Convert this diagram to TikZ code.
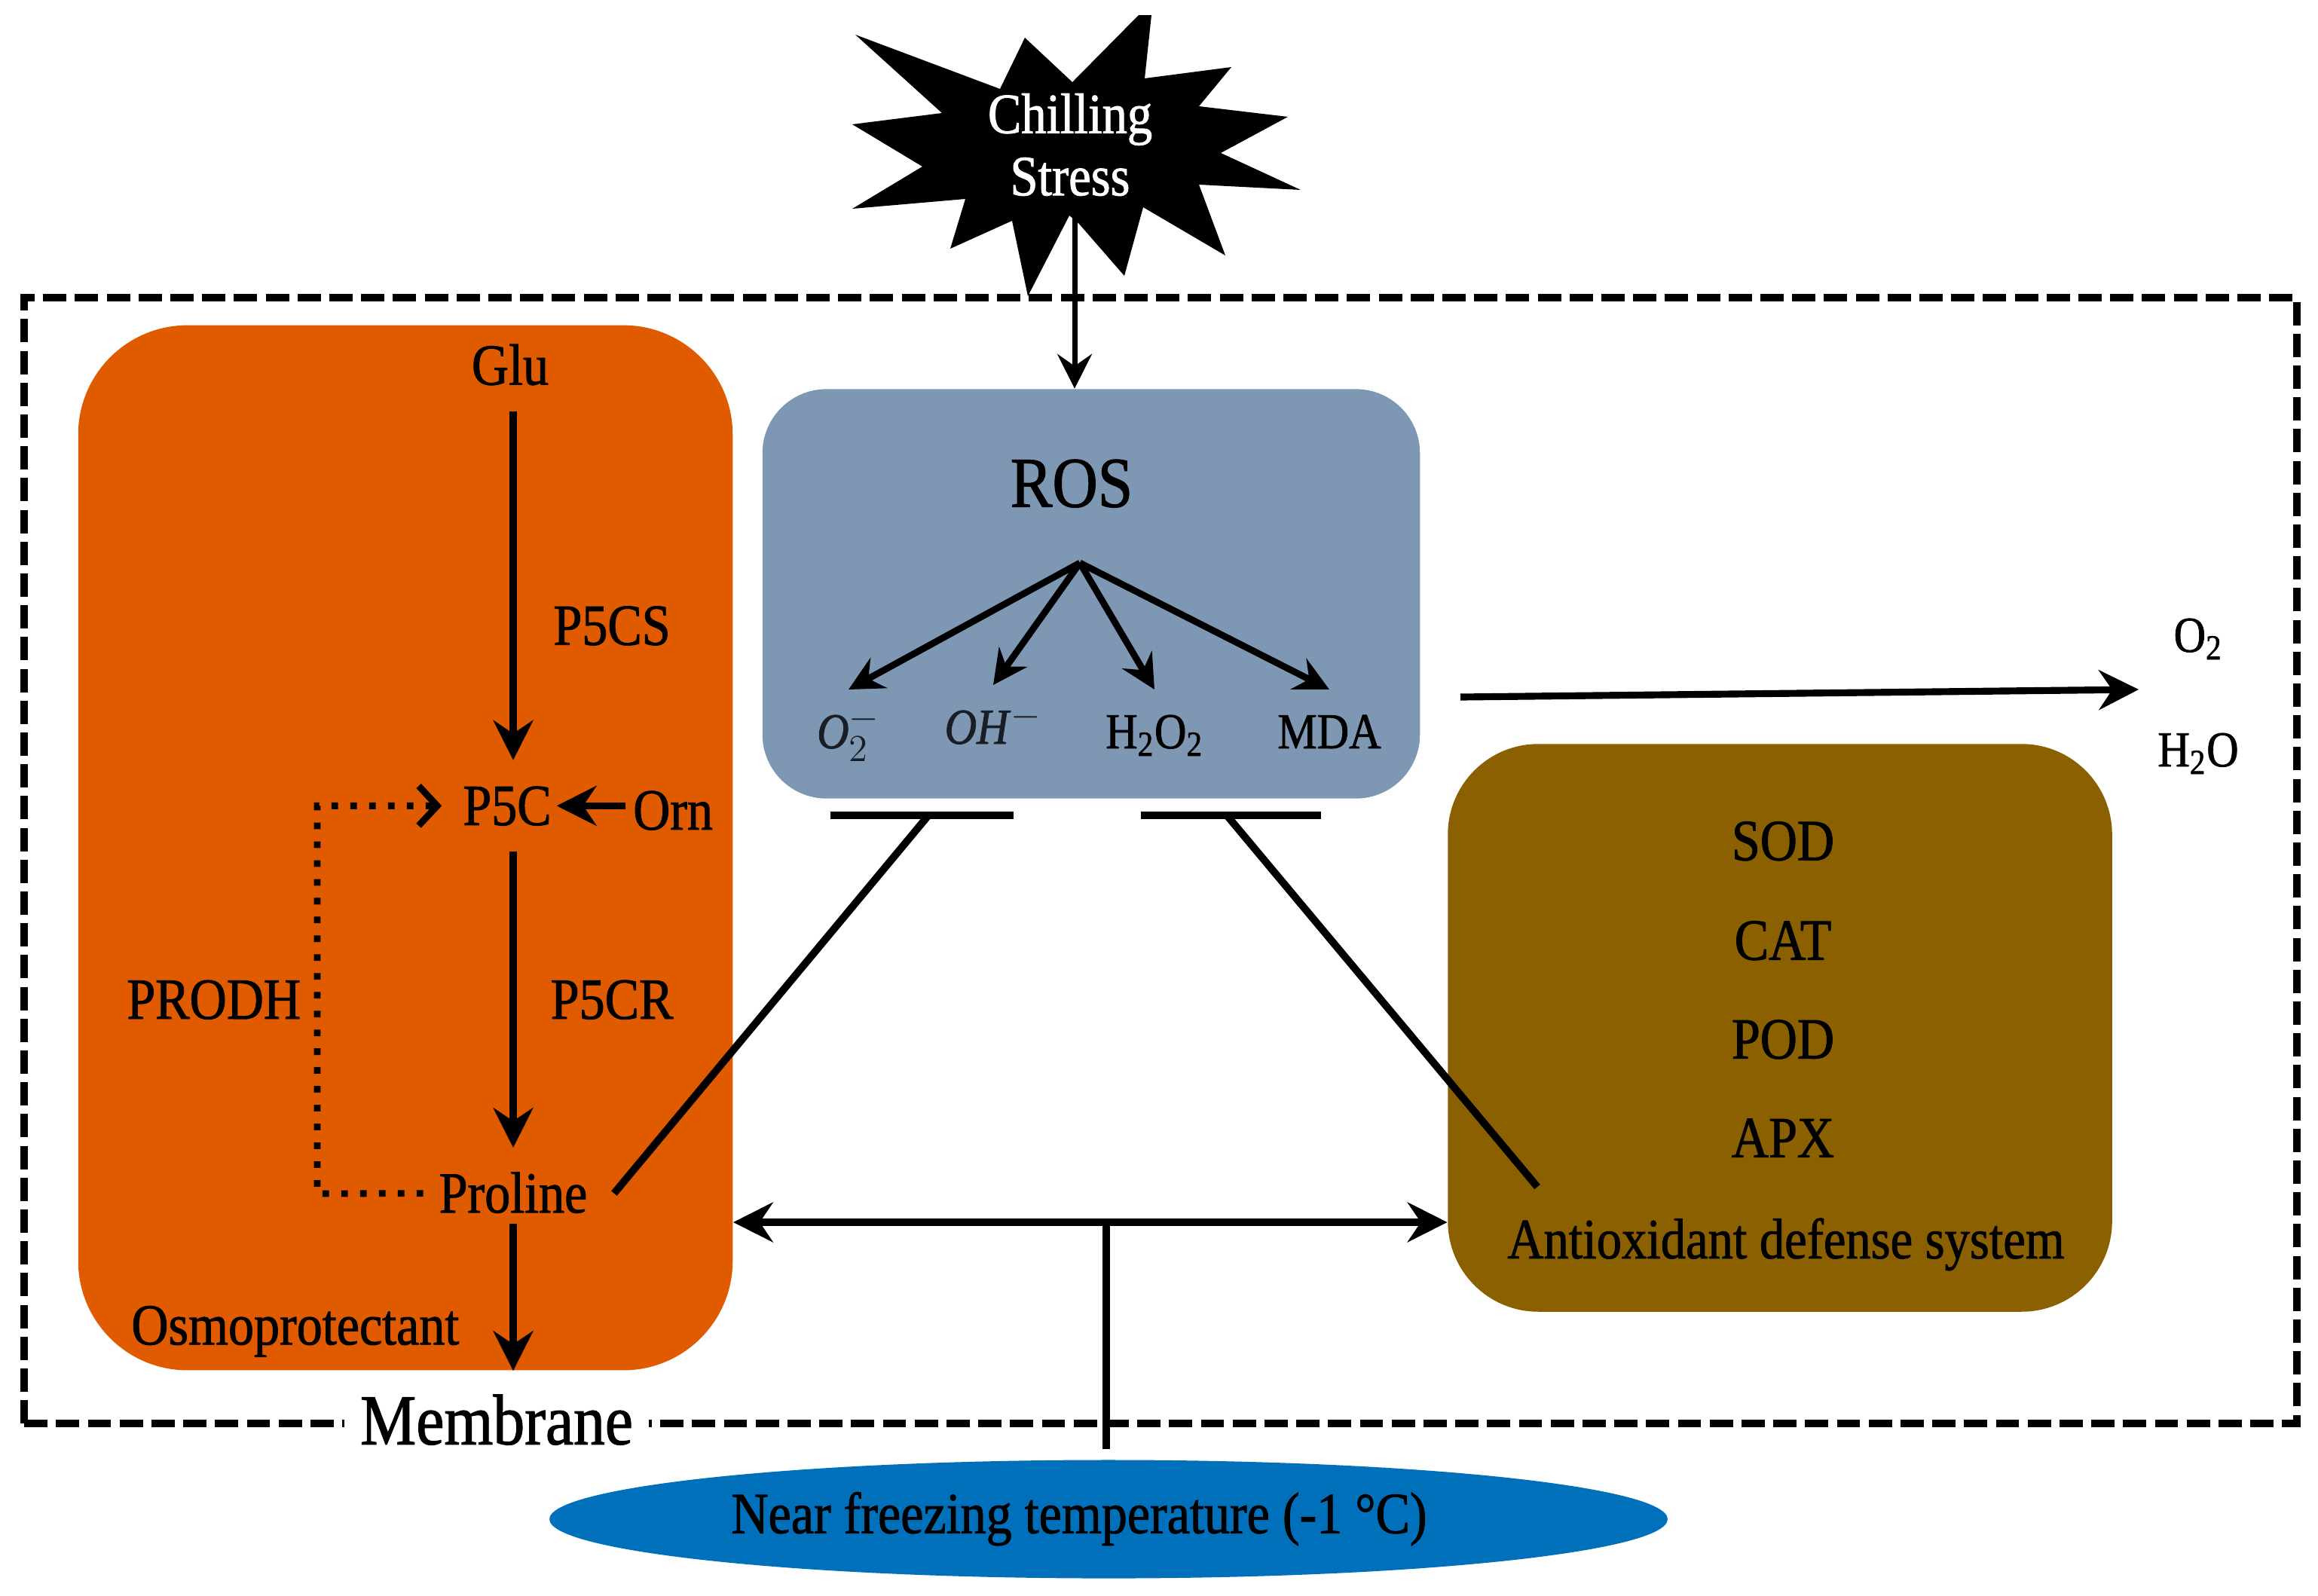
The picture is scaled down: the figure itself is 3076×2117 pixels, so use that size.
\documentclass[tikz,border=0pt]{standalone}
\usepackage{fontspec}
\setmainfont{Liberation Serif}[FakeStretch=0.88, FakeBold=1.2]
\usepackage{xcolor}
\usetikzlibrary{shapes.geometric, arrows.meta, positioning, calc}
\definecolor{prolinebox}{HTML}{E05A00}
\definecolor{rosbox}{HTML}{7E98B4}
\definecolor{enzymebox}{HTML}{8B6000}
\definecolor{coldfill}{HTML}{0070BB}

\begin{document}
\begin{tikzpicture}[
    x=0.01cm, y=-0.01cm,
    on grid,
    panel/.style={rectangle, rounded corners=#1, inner sep=0pt},
    lbl/.style={inner sep=0pt, outer xsep=3pt, outer ysep=10pt, text height=14.5pt, text depth=0pt, font=\fontsize{22}{24}\selectfont},
    small/.style={lbl, text height=12.5pt, font=\fontsize{19}{21}\selectfont},
    large/.style={lbl, text height=18pt, font=\fontsize{27}{29}\selectfont},
    arrow/.style={-{Stealth[length=15pt, width=15pt, inset=5pt]}, line width=2.6pt},
    thinarrow/.style={-{Stealth[length=13pt, width=13pt, inset=4.5pt]}, line width=2pt},
    dotarrow/.style={-{Straight Barb[length=7pt, width=15pt, line width=2.5pt]}, line width=2.5pt, dash pattern=on 2.5pt off 4.6pt},
    inhibit/.style={line width=2.8pt},
]
\useasboundingbox (0,0) rectangle (3076,2117);
% membrane and panels
\node[rectangle, draw, line width=2.8pt, dash pattern=on 8.8pt off 3.2pt, minimum width=30.14cm, minimum height=14.93cm, inner sep=0pt] (cell) at (1540,1142) {};
\node[panel=1.45cm, fill=prolinebox, minimum width=8.68cm, minimum height=13.86cm] (prolinepanel) at (538,1125) {};
\node[panel=0.85cm, fill=rosbox, minimum width=8.72cm, minimum height=5.43cm] (rospanel) at (1448,788) {};
\node[panel=1.2cm, fill=enzymebox, minimum width=8.81cm, minimum height=7.53cm] (enzymepanel) at (2362,1364) {};
\node[ellipse, fill=coldfill, minimum width=14.83cm, minimum height=1.57cm, inner sep=0pt] (cold) at (1471,2016) {};
\node[large, fill=white, outer sep=0pt, inner xsep=6pt, inner ysep=3pt] (membrane) at (659,1885) {Membrane};
% stress burst
\fill (1135,46) -- (1327,118) -- (1360,50) -- (1423,109) -- (1511,20) -- (1528,20) -- (1519,104) -- (1634,89) -- (1591,141) -- (1709,155) -- (1620,203) -- (1726,252) -- (1591,245) -- (1626,339) -- (1517,275) -- (1492,366) -- (1431,296) -- (1419,286) -- (1364,393) -- (1343,293) -- (1261,330) -- (1281,264) -- (1131,277) -- (1224,221) -- (1131,165) -- (1250,150) -- cycle;
\node[lbl, text=white, align=center, text height=, text depth=, font=\fontsize{21.5}{23.5}\selectfont] (stress) at (1420,192) {Chilling\\Stress};
\coordinate (stressfoot) at (1426,283);
% proline pathway
\node[lbl] (glu) at (677,485) {Glu};
\node[lbl, below=5.84cm of glu, xshift=-0.04cm] (ptc) {P5C};
\node[lbl, right=2.2cm of ptc, yshift=-0.06cm] (orn) {Orn};
\node[lbl, below=5.14cm of ptc, xshift=0.08cm] (proline) {Proline};
\node[lbl, above right=2.57cm and 1.31cm of proline] (ptcr) {P5CR};
\node[lbl, above=4.96cm of ptcr] (ptcs) {P5CS};
\node[lbl, left=5.28cm of ptcr] (prodh) {PRODH};
\node[lbl, below left=1.75cm and 2.89cm of proline] (osmo) {Osmoprotectant};
\coordinate (prodhcorner) at (421,1584);
\draw[arrow] (glu.south -| proline) -- (ptc.north -| proline);
\draw[arrow] (ptc.south -| proline) -- (proline.north);
\draw[arrow] ([yshift=0.2cm]proline.south) -- (proline |- prolinepanel.south);
\draw[arrow, shorten >=-1pt] (orn.west |- ptc) -- (ptc.east);
\draw[dotarrow, shorten <=3pt, shorten >=5pt] (proline.west) -- (prodhcorner) -- (prodhcorner |- ptc.west) -- (ptc.west);
% ros panel
\node[large] (ros) at (1422,641) {ROS};
\coordinate (rosfan) at (1433,747);
\node[small, text=black!80!rosbox, outer sep=0pt] (superoxide) at (1126,971) {\textit{O}$_2^-$};
\node[small, text=black!80!rosbox, outer sep=0pt] (hydroxyl) at (1318,965) {\textit{OH}$^-$};
\node[small, outer sep=0pt] (peroxide) at (1532,971) {H\textsubscript{2}O\textsubscript{2}};
\node[small, outer sep=0pt] (mda) at (1764,971) {MDA};
\foreach \leaf in {superoxide, hydroxyl, peroxide, mda}
    \draw[thinarrow, line width=2.5pt] (rosfan) -- ([yshift=0.34cm]\leaf.north);
\draw[thinarrow] (stressfoot) -- (stressfoot |- rospanel.north);
% antioxidants
\node[lbl] (sod) at (2366,1116) {SOD};
\node[lbl, below=1.32cm of sod] (cat) {CAT};
\node[lbl, below=1.31cm of cat] (pod) {POD};
\node[lbl, below=1.31cm of pod] (apx) {APX};
\node[lbl, below=1.34cm of apx, xshift=0.04cm, font=\fontsize{21.5}{24}\selectfont] (antiox) {Antioxidant defense system};
\node[small] (otwo) at (2917,843) {O\textsubscript{2}};
\node[small, below=1.52cm of otwo] (water) {H\textsubscript{2}O};
\coordinate (outstart) at (1938,925);
\coordinate (outend) at (2838,915);
\draw[arrow] (outstart) -- (outend);
% inhibition bars
\coordinate (barA) at (1232,1082);
\coordinate (barAl) at (1102,1082);
\coordinate (barAr) at (1345,1082);
\coordinate (barB) at (1628,1082);
\coordinate (barBl) at (1514,1082);
\coordinate (barBr) at (1753,1082);
\coordinate (antilink) at (2040,1575);
\draw[inhibit] (barAl) -- (barAr);
\draw[inhibit] (barBl) -- (barBr);
\draw[inhibit] ([xshift=0.25cm]proline.east) -- (barA);
\draw[inhibit] (antilink) -- (barB);
% temperature
\node[lbl] (coldlabel) at (1432,2009) {Near freezing temperature (-1 °C)};
\coordinate (junction) at (1468,1622);
\coordinate (coldtop) at (1468,1923);
\draw[arrow, {Stealth[length=15pt, width=15pt, inset=5pt]}-{Stealth[length=15pt, width=15pt, inset=5pt]}] (prolinepanel.east |- junction) -- (enzymepanel.west |- junction);
\draw[inhibit] (coldtop) -- (junction);
\end{tikzpicture}
\end{document}
